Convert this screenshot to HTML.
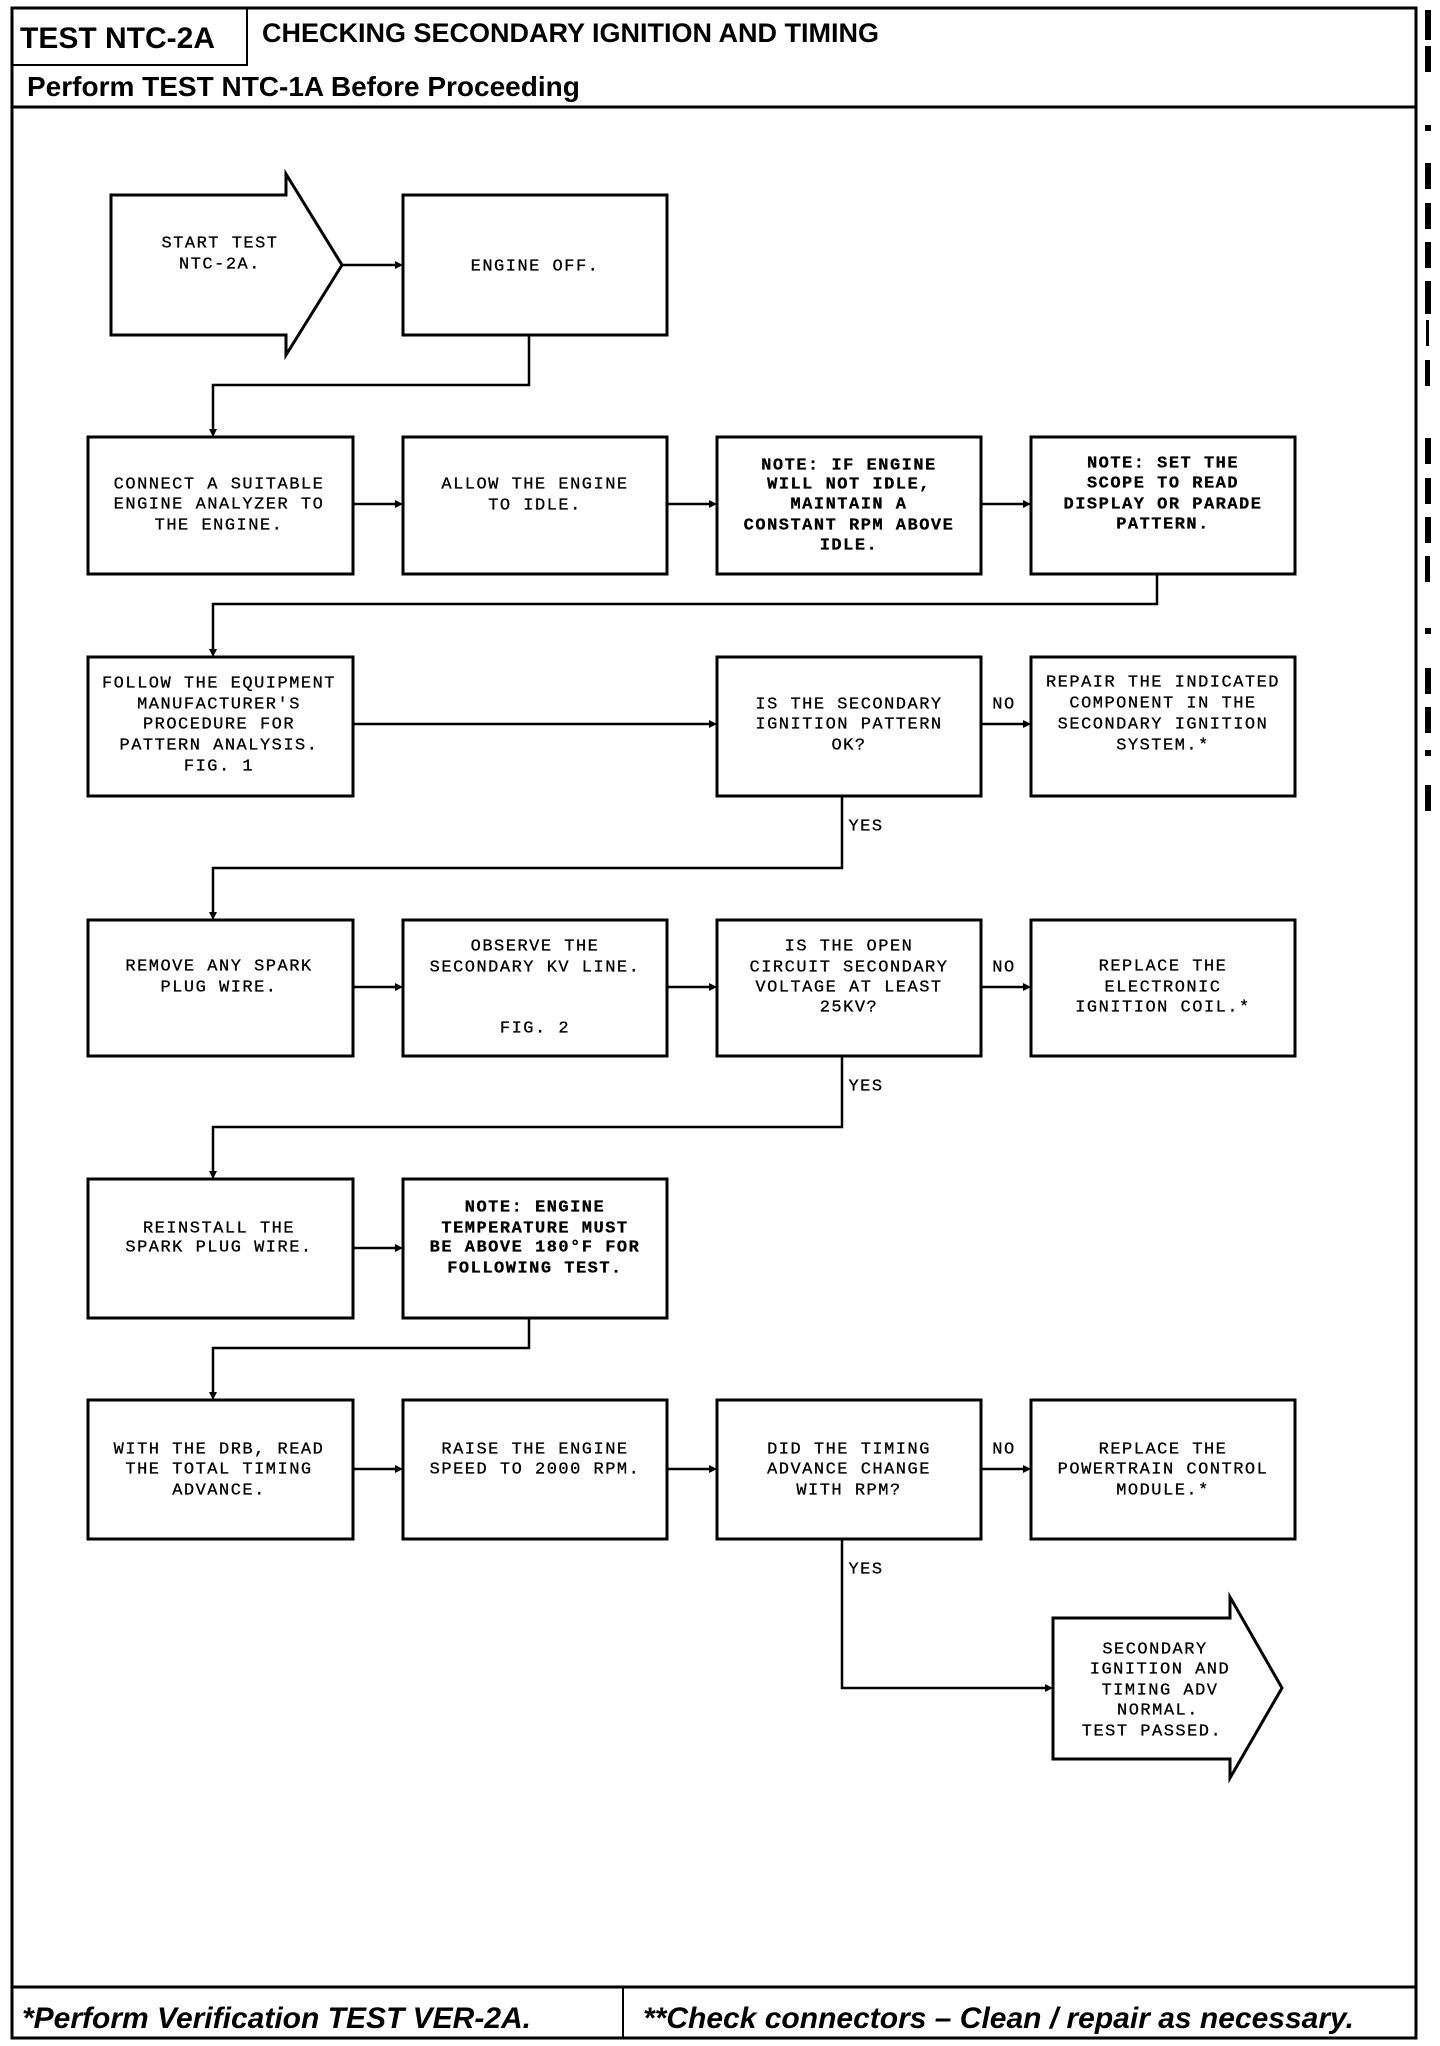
<!DOCTYPE html>
<html><head><meta charset="utf-8"><style>
html,body{margin:0;padding:0;background:#fff}
svg{display:block}
.t{font-family:"Liberation Mono",monospace;font-size:17px;letter-spacing:1.5px;text-anchor:middle;dominant-baseline:middle;fill:#000;stroke:#000;stroke-width:0.3}
.b{font-weight:bold}
.h{font-family:"Liberation Sans",sans-serif;font-weight:bold;fill:#000}
</style></head><body>
<svg width="1440" height="2046" viewBox="0 0 1440 2046" xmlns="http://www.w3.org/2000/svg">
<g fill="none" stroke="#000" stroke-width="3">
<rect x="12" y="8" width="1404" height="2030"/>
<line x1="12" y1="107" x2="1416" y2="107"/>
<rect x="12" y="8" width="235" height="57" stroke-width="2"/>
<line x1="12" y1="1987" x2="1416" y2="1987"/>
<line x1="623" y1="1987" x2="623" y2="2038" stroke-width="2"/>
<polygon points="111,195 286,195 286,174 342,265 286,355 286,335 111,335"/>
<rect x="403" y="195" width="264" height="140"/>
<rect x="88" y="437" width="265" height="137"/>
<rect x="403" y="437" width="264" height="137"/>
<rect x="717" y="437" width="264" height="137"/>
<rect x="1031" y="437" width="264" height="137"/>
<rect x="88" y="657" width="265" height="139"/>
<rect x="717" y="657" width="264" height="139"/>
<rect x="1031" y="657" width="264" height="139"/>
<rect x="88" y="920" width="265" height="136"/>
<rect x="403" y="920" width="264" height="136"/>
<rect x="717" y="920" width="264" height="136"/>
<rect x="1031" y="920" width="264" height="136"/>
<rect x="88" y="1179" width="265" height="139"/>
<rect x="403" y="1179" width="264" height="139"/>
<rect x="88" y="1400" width="265" height="139"/>
<rect x="403" y="1400" width="264" height="139"/>
<rect x="717" y="1400" width="264" height="139"/>
<rect x="1031" y="1400" width="264" height="139"/>
<polygon points="1053,1618 1230,1618 1230,1597 1282,1688 1230,1778 1230,1759 1053,1759"/>
<g stroke-width="2.5">
<line x1="342" y1="265" x2="398" y2="265"/>
<polyline points="529,335 529,385 213,385 213,432"/>
<line x1="353" y1="504" x2="398" y2="504"/>
<line x1="667" y1="504" x2="712" y2="504"/>
<line x1="981" y1="504" x2="1026" y2="504"/>
<polyline points="1157,574 1157,604 213,604 213,652"/>
<line x1="353" y1="724" x2="712" y2="724"/>
<line x1="981" y1="724" x2="1026" y2="724"/>
<polyline points="842,796 842,868 213,868 213,915"/>
<line x1="353" y1="987" x2="398" y2="987"/>
<line x1="667" y1="987" x2="712" y2="987"/>
<line x1="981" y1="987" x2="1026" y2="987"/>
<polyline points="842,1056 842,1127 213,1127 213,1174"/>
<line x1="353" y1="1248" x2="398" y2="1248"/>
<polyline points="529,1318 529,1348 213,1348 213,1395"/>
<line x1="353" y1="1469" x2="398" y2="1469"/>
<line x1="667" y1="1469" x2="712" y2="1469"/>
<line x1="981" y1="1469" x2="1026" y2="1469"/>
<polyline points="842,1539 842,1688 1048,1688"/>
</g>
</g>
<g fill="#000">
<polygon points="403,265 395,261 395,269"/>
<polygon points="213,437 209,429 217,429"/>
<polygon points="403,504 395,500 395,508"/>
<polygon points="717,504 709,500 709,508"/>
<polygon points="1031,504 1023,500 1023,508"/>
<polygon points="213,657 209,649 217,649"/>
<polygon points="717,724 709,720 709,728"/>
<polygon points="1031,724 1023,720 1023,728"/>
<polygon points="213,920 209,912 217,912"/>
<polygon points="403,987 395,983 395,991"/>
<polygon points="717,987 709,983 709,991"/>
<polygon points="1031,987 1023,983 1023,991"/>
<polygon points="213,1179 209,1171 217,1171"/>
<polygon points="403,1248 395,1244 395,1252"/>
<polygon points="213,1400 209,1392 217,1392"/>
<polygon points="403,1469 395,1465 395,1473"/>
<polygon points="717,1469 709,1465 709,1473"/>
<polygon points="1031,1469 1023,1465 1023,1473"/>
<polygon points="1053,1688 1045,1684 1045,1692"/>
<rect x="1425" y="10" width="6" height="30"/><rect x="1425" y="46" width="6" height="26"/>
<rect x="1425" y="125" width="6" height="6"/><rect x="1425" y="163" width="6" height="26"/>
<rect x="1425" y="203" width="6" height="26"/><rect x="1425" y="242" width="6" height="26"/>
<rect x="1425" y="281" width="6" height="33"/><rect x="1426" y="320" width="3" height="26"/>
<rect x="1425" y="360" width="5" height="26"/><rect x="1425" y="438" width="6" height="26"/>
<rect x="1425" y="478" width="6" height="26"/><rect x="1425" y="517" width="6" height="26"/>
<rect x="1425" y="556" width="5" height="26"/><rect x="1425" y="628" width="6" height="6"/>
<rect x="1425" y="668" width="6" height="26"/><rect x="1425" y="707" width="6" height="26"/>
<rect x="1425" y="750" width="6" height="6"/><rect x="1425" y="785" width="6" height="26"/>
</g>
<text class="h" x="20" y="48" font-size="30">TEST NTC-2A</text>
<text class="h" x="262" y="42" font-size="27">CHECKING SECONDARY IGNITION AND TIMING</text>
<text class="h" x="27" y="96" font-size="28">Perform TEST NTC-1A Before Proceeding</text>
<text class="h" x="22" y="2028" font-size="30" font-style="italic">*Perform Verification TEST VER-2A.</text>
<text class="h" x="643" y="2028" font-size="30" font-style="italic">**Check connectors – Clean / repair as necessary.</text>
<g class="t">
<text x="220" y="243">START TEST</text><text x="220" y="264">NTC-2A.</text>
<text x="535" y="266">ENGINE OFF.</text>
<text x="219" y="484">CONNECT A SUITABLE</text><text x="219" y="504">ENGINE ANALYZER TO</text><text x="219" y="525">THE ENGINE.</text>
<text x="535" y="484">ALLOW THE ENGINE</text><text x="535" y="505">TO IDLE.</text>
<g class="b"><text x="849" y="465">NOTE: IF ENGINE</text><text x="849" y="484">WILL NOT IDLE,</text><text x="849" y="504">MAINTAIN A</text><text x="849" y="525">CONSTANT RPM ABOVE</text><text x="849" y="545">IDLE.</text>
<text x="1163" y="463">NOTE: SET THE</text><text x="1163" y="483">SCOPE TO READ</text><text x="1163" y="504">DISPLAY OR PARADE</text><text x="1163" y="524">PATTERN.</text></g>
<text x="219" y="683">FOLLOW THE EQUIPMENT</text><text x="219" y="704">MANUFACTURER'S</text><text x="219" y="724">PROCEDURE FOR</text><text x="219" y="745">PATTERN ANALYSIS.</text><text x="219" y="766">FIG. 1</text>
<text x="849" y="704">IS THE SECONDARY</text><text x="849" y="724">IGNITION PATTERN</text><text x="849" y="745">OK?</text>
<text x="1163" y="682">REPAIR THE INDICATED</text><text x="1163" y="703">COMPONENT IN THE</text><text x="1163" y="724">SECONDARY IGNITION</text><text x="1163" y="745">SYSTEM.*</text>
<text x="1004" y="704">NO</text><text x="866" y="826">YES</text>
<text x="219" y="966">REMOVE ANY SPARK</text><text x="219" y="987">PLUG WIRE.</text>
<text x="535" y="946">OBSERVE THE</text><text x="535" y="967">SECONDARY KV LINE.</text><text x="535" y="1028">FIG. 2</text>
<text x="849" y="946">IS THE OPEN</text><text x="849" y="967">CIRCUIT SECONDARY</text><text x="849" y="987">VOLTAGE AT LEAST</text><text x="849" y="1007">25KV?</text>
<text x="1163" y="966">REPLACE THE</text><text x="1163" y="987">ELECTRONIC</text><text x="1163" y="1007">IGNITION COIL.*</text>
<text x="1004" y="967">NO</text><text x="866" y="1086">YES</text>
<text x="219" y="1228">REINSTALL THE</text><text x="219" y="1247">SPARK PLUG WIRE.</text>
<g class="b"><text x="535" y="1207">NOTE: ENGINE</text><text x="535" y="1228">TEMPERATURE MUST</text><text x="535" y="1247">BE ABOVE 180°F FOR</text><text x="535" y="1268">FOLLOWING TEST.</text></g>
<text x="219" y="1449">WITH THE DRB, READ</text><text x="219" y="1469">THE TOTAL TIMING</text><text x="219" y="1490">ADVANCE.</text>
<text x="535" y="1449">RAISE THE ENGINE</text><text x="535" y="1469">SPEED TO 2000 RPM.</text>
<text x="849" y="1449">DID THE TIMING</text><text x="849" y="1469">ADVANCE CHANGE</text><text x="849" y="1490">WITH RPM?</text>
<text x="1163" y="1449">REPLACE THE</text><text x="1163" y="1469">POWERTRAIN CONTROL</text><text x="1163" y="1490">MODULE.*</text>
<text x="1004" y="1449">NO</text><text x="866" y="1569">YES</text>
<text x="1155" y="1649">SECONDARY</text><text x="1160" y="1669">IGNITION AND</text><text x="1160" y="1690">TIMING ADV</text><text x="1158" y="1710">NORMAL.</text><text x="1152" y="1731">TEST PASSED.</text>
</g>
</svg>
</body></html>
